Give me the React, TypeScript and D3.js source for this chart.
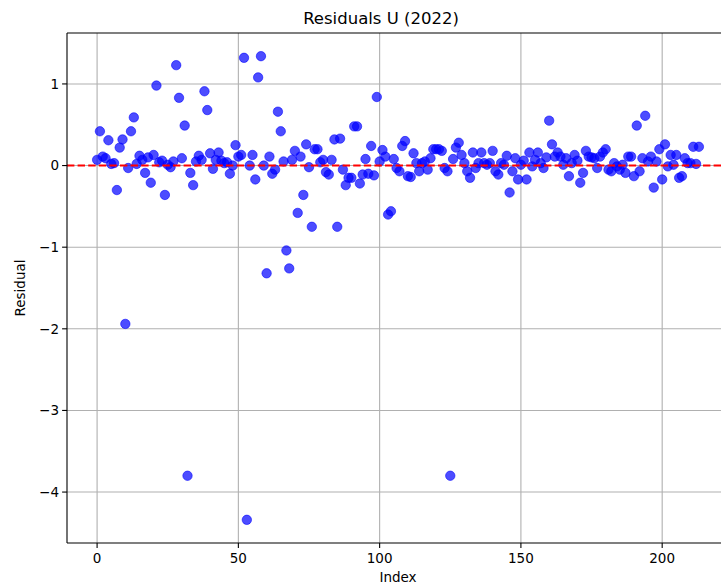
import React from "react";
import * as d3 from "d3";

const residuals: number[] = [
  0.07, 0.42, 0.11, 0.09, 0.31, 0.02, 0.03, -0.30, 0.22, 0.32,
  -1.94, -0.03, 0.42, 0.59, 0.02, 0.12, 0.07, -0.09, 0.10, -0.21,
  0.13, 0.98, 0.04, 0.06, -0.36, 0.01, -0.02, 0.05, 1.23, 0.83,
  0.09, 0.49, -3.80, -0.09, -0.24, 0.05, 0.12, 0.07, 0.91, 0.68,
  0.15, -0.04, 0.07, 0.16, 0.06, 0.03, 0.04, -0.10, 0.00, 0.25,
  0.11, 0.13, 1.32, -4.34, 0.00, 0.13, -0.17, 1.08, 1.34, 0.00,
  -1.32, 0.11, -0.10, -0.05, 0.66, 0.42, 0.05, -1.04, -1.26, 0.07,
  0.18, -0.58, 0.11, -0.36, 0.26, -0.02, -0.75, 0.20, 0.20, 0.04,
  0.07, -0.08, -0.11, 0.07, 0.32, -0.75, 0.33, -0.05, -0.24, -0.15,
  -0.15, 0.48, 0.48, -0.22, -0.11, 0.08, -0.10, 0.24, -0.12, 0.84,
  0.05, 0.19, 0.11, -0.60, -0.56, 0.08, -0.03, -0.07, 0.24, 0.30,
  -0.13, -0.14, 0.15, 0.03, -0.07, 0.03, 0.05, -0.05, 0.09, 0.20,
  0.20, 0.20, 0.18, -0.03, -0.07, -3.80, 0.08, 0.22, 0.28, 0.13,
  0.03, -0.07, -0.15, 0.16, -0.03, 0.03, 0.16, 0.03, 0.01, 0.03,
  0.18, -0.07, -0.11, 0.03, 0.01, 0.12, -0.33, -0.07, 0.09, -0.17,
  0.01, 0.06, -0.17, 0.16, -0.01, 0.07, 0.16, 0.03, -0.03, 0.10,
  0.55, 0.26, 0.11, 0.16, 0.11, 0.01, 0.09, -0.13, 0.03, 0.13,
  0.06, -0.21, -0.09, 0.18, 0.11, 0.10, 0.09, -0.03, 0.11, 0.16,
  0.20, -0.05, -0.07, 0.03, -0.01, -0.05, 0.01, -0.09, 0.11, 0.11,
  -0.13, 0.49, -0.07, 0.09, 0.61, 0.05, 0.11, -0.27, 0.05, 0.20,
  -0.17, 0.26, -0.01, 0.13, 0.01, 0.13, -0.15, -0.13, 0.09, 0.03,
  0.03, 0.23, 0.02, 0.23,
];

const xTicks: number[] = [0, 50, 100, 150, 200];
const yTicks: number[] = [1, 0, -1, -2, -3, -4];
const titleText = "Residuals U (2022)";
const xLabel = "Index";
const yLabel = "Residual";

const W = 721;
const H = 588;
const left = 67;
const right = 729;
const top = 33;
const bottom = 543;

export default function App() {
  const n = residuals.length;
  const xPad = (n - 1) * 0.05;
  const x = d3.scaleLinear().domain([-xPad, n - 1 + xPad]).range([left, right]);
  const yMin = d3.min(residuals) as number;
  const yMax = d3.max(residuals) as number;
  const yPad = (yMax - yMin) * 0.05;
  const y = d3.scaleLinear().domain([yMin - yPad, yMax + yPad]).range([bottom, top]);
  const font = "DejaVu Sans, sans-serif";
  const fmt = (v: number) => (v < 0 ? "\u2212" + Math.abs(v) : String(v));

  return (
    <svg width={W} height={H} style={{ position: "absolute", left: 0, top: 0, background: "#fff" }}>
      <defs>
        <clipPath id="plotclip">
          <rect x={left} y={top} width={right - left} height={bottom - top} />
        </clipPath>
      </defs>
      <rect x={0} y={0} width={W} height={H} fill="#fff" />
      {xTicks.map((t) => (
        <line key={"gx" + t} x1={x(t)} x2={x(t)} y1={top} y2={bottom} stroke="#b0b0b0" strokeWidth={1.1} />
      ))}
      {yTicks.map((t) => (
        <line key={"gy" + t} x1={left} x2={right} y1={y(t)} y2={y(t)} stroke="#b0b0b0" strokeWidth={1.1} />
      ))}
      <g clipPath="url(#plotclip)">
        {residuals.map((v, i) => (
          <circle key={i} cx={x(i)} cy={y(v)} r={4.7} fill="#0000ff" fillOpacity={0.7} stroke="#0000ff" strokeOpacity={0.7} strokeWidth={0.8} />
        ))}
        <line x1={left} x2={right} y1={y(0)} y2={y(0)} stroke="#ff0000" strokeWidth={2} strokeDasharray="7.4 3.2" />
      </g>
      <line x1={left} x2={left} y1={top} y2={bottom} stroke="#000" strokeWidth={1.1} />
      <line x1={left} x2={right} y1={bottom} y2={bottom} stroke="#000" strokeWidth={1.1} />
      <line x1={left} x2={right} y1={top} y2={top} stroke="#000" strokeWidth={1.1} />
      {xTicks.map((t) => (
        <g key={"tx" + t}>
          <line x1={x(t)} x2={x(t)} y1={bottom} y2={bottom + 4.9} stroke="#000" strokeWidth={1.1} />
          <text x={x(t)} y={bottom + 20} fontFamily={font} fontSize={13.5} textAnchor="middle" fill="#000">
            {fmt(t)}
          </text>
        </g>
      ))}
      {yTicks.map((t) => (
        <g key={"ty" + t}>
          <line x1={left - 4.9} x2={left} y1={y(t)} y2={y(t)} stroke="#000" strokeWidth={1.1} />
          <text x={left - 8} y={y(t)} dy="0.35em" fontFamily={font} fontSize={13.5} textAnchor="end" fill="#000">
            {fmt(t)}
          </text>
        </g>
      ))}
      <text x={381} y={24} fontFamily={font} fontSize={16.5} textAnchor="middle" fill="#000">
        {titleText}
      </text>
      <text x={(left + right) / 2} y={582} fontFamily={font} fontSize={13.5} textAnchor="middle" fill="#000">
        {xLabel}
      </text>
      <text
        transform={`translate(25, ${(top + bottom) / 2}) rotate(-90)`}
        fontFamily={font}
        fontSize={13.5}
        textAnchor="middle"
        fill="#000"
      >
        {yLabel}
      </text>
    </svg>
  );
}
